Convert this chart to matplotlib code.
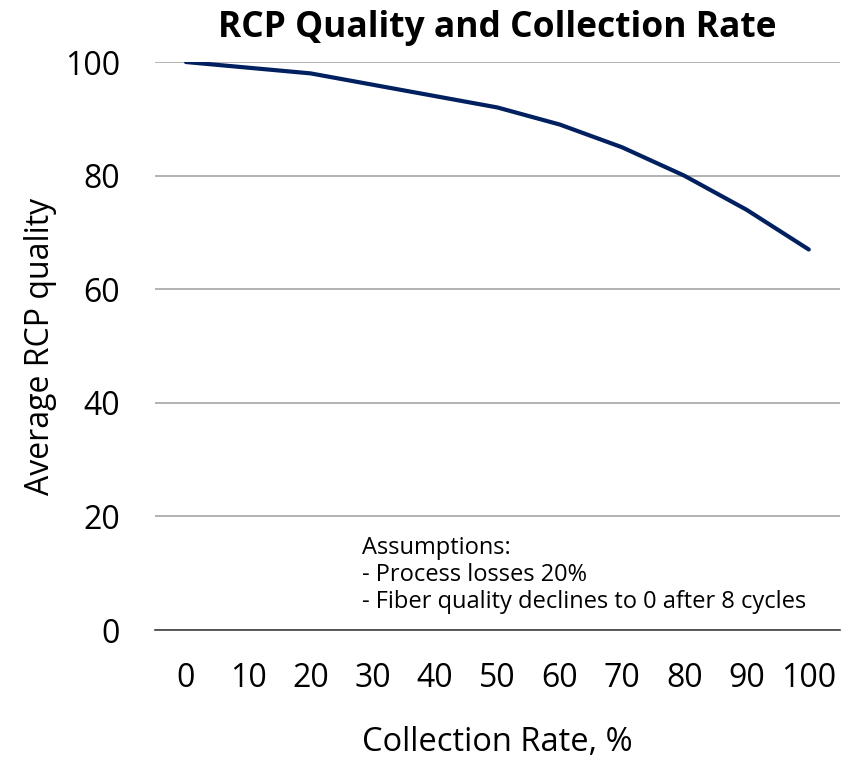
import matplotlib
matplotlib.use('Agg')
import matplotlib.pyplot as plt
import numpy as np

# collection rate (%) vs average recycled-content quality
rates = [0, 10, 20, 30, 40, 50, 60, 70, 80, 90, 100]
quality = [100, 99, 98, 96, 94, 92, 89, 85, 80, 74, 67]
yticks = [0, 20, 40, 60, 80, 100]

plt.rcParams['font.family'] = ['Open Sans', 'DejaVu Sans']

fig = plt.figure(figsize=(8.65, 7.61), dpi=100)
ax = fig.add_axes([0.179, 0.172, 0.792, 0.7465])

ax.plot(rates, quality, color='#002060', linewidth=3, solid_capstyle='round')

ax.set_xlim(-5, 105)
ax.set_ylim(0, 100)
ax.set_xticks(rates)
ax.set_yticks(yticks)
ax.yaxis.grid(True, color='#a6a6a6', linewidth=1.2)
ax.set_axisbelow(True)
for s in ['top', 'right', 'left']:
    ax.spines[s].set_visible(False)
ax.spines['bottom'].set_color('#404040')
ax.spines['bottom'].set_linewidth(1.2)
ax.tick_params(axis='both', length=0, labelsize=23, colors='black')
ax.tick_params(axis='y', pad=25)
ax.tick_params(axis='x', pad=23)

ax.set_xlabel('Collection Rate, %', fontsize=23.5, labelpad=22)
ax.set_ylabel('Average RCP quality', fontsize=23, labelpad=6)
ax.set_title('RCP Quality and Collection Rate', fontsize=25.5, fontweight='bold', pad=18)

ax.text(0.302, 0.165, 'Assumptions:\n- Process losses 20%\n- Fiber quality declines to 0 after 8 cycles',
        transform=ax.transAxes, fontsize=17, va='top', ha='left', linespacing=1.15)

fig.savefig('out.png', dpi=100)
